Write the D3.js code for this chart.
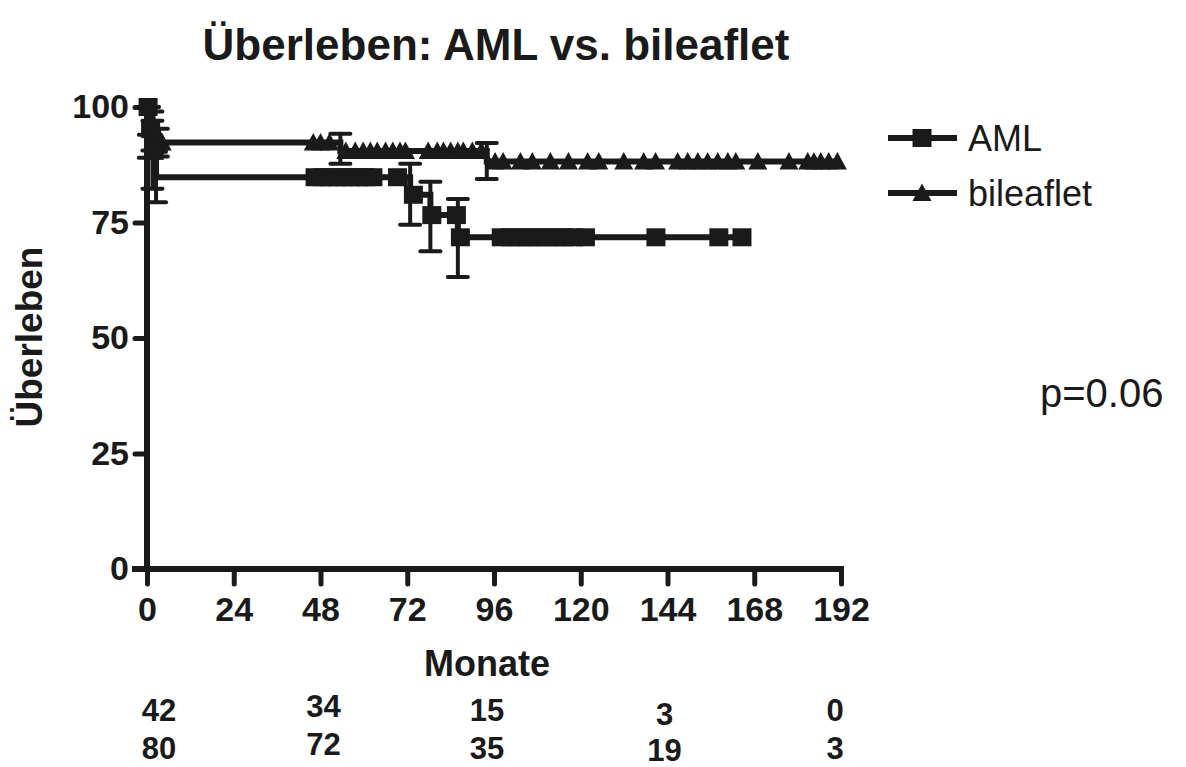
<!DOCTYPE html>
<html>
<head>
<meta charset="utf-8">
<script src="https://cdn.jsdelivr.net/npm/d3@7/dist/d3.min.js"></script>
<style>
  body { margin: 0; background: #fff; }
  svg text { font-family: "Liberation Sans", Arial, sans-serif; fill: #1a1a1a; }
</style>
</head>
<body>
<svg id="chart" width="1186" height="767"></svg>
<script>
// Kaplan-Meier data (months, survival %)
const amlEventTimes = [0.5, 1.5, 2.5, 72.8, 78.4, 86.0];
const amlSurvival   = [95.2, 90.5, 84.8, 81.0, 76.6, 71.8];
const amlErrLow     = [89.0, 82.3, 79.4, 74.5, 68.8, 63.2];
const amlErrHigh    = [100, 97.0, 90.3, 87.7, 83.8, 80.1];
const amlCensored   = [0.3, 1.0, 2.0, 46.5, 48.5, 50.5, 52.5, 54.5, 56.5, 58.5, 60.5, 62.5, 69.3,
                       73.7, 78.8, 85.6, 86.7, 98, 100.5, 103, 105.5, 108, 110.5, 113,
                       115.5, 118, 121.3, 140.8, 158.2, 164.6];

const bileafletEventTimes = [0.5, 1.5, 3.0, 53.5, 94.0];
const bileafletSurvival   = [97.5, 95.0, 92.3, 90.5, 88.2];
const bileafletErrLow     = [94.0, 90.6, 89.3, 87.7, 84.4];
const bileafletErrHigh    = [100, 99.0, 95.3, 94.2, 92.2];
const bileafletCensored   = [1.0, 2.2, 3.4, 4.2, 46, 48, 50.5, 55, 57.6, 59.8, 61.8, 63.7, 66, 68, 70,
                             71.5, 77.8, 80.3, 82, 84, 86, 87.5, 90, 92.5, 96.3, 98.5,
                             103.3, 106.6, 111.6, 116.6, 121.9, 125, 131.9, 137.4, 140.7,
                             146.8, 149.6, 152.4, 155.1, 157.9, 160.7, 162.9, 169, 177.6,
                             182.8, 184.5, 186.4, 188.6, 191];

const xTicks = [0, 24, 48, 72, 96, 120, 144, 168, 192];
const yTicks = [0, 25, 50, 75, 100];

// number at risk table
const riskMonths    = [0, 48, 96, 144, 192];
const riskAML       = [42, 34, 15, 3, 0];
const riskBileaflet = [80, 72, 35, 19, 3];

const ink = "#1a1a1a";
const svg = d3.select("#chart");

const x = d3.scaleLinear().domain([0, 192]).range([147, 841]);
const y = d3.scaleLinear().domain([0, 100]).range([569, 107]);

// survival value just after time t (for placing censor marks)
function survivalAt(times, surv, t) {
    let s = 100;
    times.forEach((et, i) => { if (et <= t) s = surv[i]; });
    return s;
}

function buildSeries(times, surv, censored) {
    const end = d3.max(censored.concat(times));
    const pts = [[0, 100]];
    times.forEach((t, i) => pts.push([t, surv[i]]));
    pts.push([end, survivalAt(times, surv, end)]);
    return pts;
}

const stepLine = d3.line()
    .x(d => x(d[0]))
    .y(d => y(d[1]))
    .curve(d3.curveStepAfter);

const squarePath = "M-9.5,-9 H9.5 V9 H-9.5 Z";
const trianglePath = "M0,-9.5 L9.5,8 L-9.5,8 Z";

const series = [
    { name: "AML", times: amlEventTimes, surv: amlSurvival, lo: amlErrLow, hi: amlErrHigh,
      cens: amlCensored, marker: squarePath },
    { name: "bileaflet", times: bileafletEventTimes, surv: bileafletSurvival, lo: bileafletErrLow,
      hi: bileafletErrHigh, cens: bileafletCensored, marker: trianglePath }
];

// axes
const xAxis = svg.append("g")
    .attr("transform", `translate(0,${y(0)})`)
    .call(d3.axisBottom(x).tickValues(xTicks).tickSize(15).tickSizeOuter(0).tickPadding(13));
const yAxis = svg.append("g")
    .attr("transform", `translate(${x(0)},0)`)
    .call(d3.axisLeft(y).tickValues(yTicks).tickSize(12).tickSizeOuter(0).tickPadding(6));

[xAxis, yAxis].forEach(ax => {
    ax.select(".domain").attr("stroke", ink).attr("stroke-width", 6).attr("stroke-linecap", "square");
    ax.selectAll(".tick line").attr("stroke", ink).attr("stroke-width", 5).attr("stroke-linecap", "round");
    ax.selectAll(".tick text")
        .style("font-size", "34px").style("font-weight", "bold").attr("fill", ink);
});
xAxis.select(".domain").attr("d", `M${x(0) - 12},0H${x(192)}`);
yAxis.select(".domain").attr("d", `M0,${y(0)}V${y(100) - 6}`);

// curves
series.forEach(s => {
    const g = svg.append("g").attr("class", "km-" + s.name);

    g.append("path")
        .attr("d", stepLine(buildSeries(s.times, s.surv, s.cens)))
        .attr("fill", "none")
        .attr("stroke", ink)
        .attr("stroke-width", 6);

    // error bars at each event
    const bars = g.selectAll(".err").data(s.times.map((t, i) => ({ t, lo: s.lo[i], hi: s.hi[i] })))
        .enter().append("g").attr("class", "err");
    bars.append("line")
        .attr("x1", d => x(d.t)).attr("x2", d => x(d.t))
        .attr("y1", d => y(d.lo)).attr("y2", d => y(d.hi))
        .attr("stroke", ink).attr("stroke-width", 4);
    ["lo", "hi"].forEach(k => {
        bars.append("line")
            .attr("x1", d => x(d.t) - 10).attr("x2", d => x(d.t) + 10)
            .attr("y1", d => y(d[k])).attr("y2", d => y(d[k]))
            .attr("stroke", ink).attr("stroke-width", 4).attr("stroke-linecap", "round");
    });

    // censored marks
    g.selectAll(".cens").data(s.cens)
        .enter().append("path")
        .attr("class", "cens")
        .attr("d", s.marker)
        .attr("transform", t => `translate(${x(t)},${y(survivalAt(s.times, s.surv, t))})`)
        .attr("fill", ink);
});

// title
svg.append("text")
    .attr("x", 496).attr("y", 60)
    .attr("text-anchor", "middle")
    .style("font-size", "44px").style("font-weight", "bold")
    .text("Überleben: AML vs. bileaflet");

// axis titles
svg.append("text")
    .attr("transform", "translate(42,337) rotate(-90)")
    .attr("text-anchor", "middle")
    .style("font-size", "37px").style("font-weight", "bold")
    .text("Überleben");

svg.append("text")
    .attr("x", 487).attr("y", 676)
    .attr("text-anchor", "middle")
    .style("font-size", "36px").style("font-weight", "bold")
    .text("Monate");

// legend
const legend = svg.append("g");
series.forEach((s, i) => {
    const ly = 138 + i * 55;
    legend.append("line")
        .attr("x1", 888).attr("x2", 957).attr("y1", ly).attr("y2", ly)
        .attr("stroke", ink).attr("stroke-width", 6);
    legend.append("path")
        .attr("d", s.marker)
        .attr("transform", `translate(922,${ly})`)
        .attr("fill", ink);
    legend.append("text")
        .attr("x", 968).attr("y", ly + 13)
        .style("font-size", "36px")
        .text(s.name);
});

// p value
svg.append("text")
    .attr("x", 1040).attr("y", 407)
    .style("font-size", "40px")
    .text("p=0.06");

// number at risk
const riskNudgeX = [12, 3, -7, -3, -6];
const riskNudgeY = [[0, -4, 0, 4, 0], [0, -4, 0, 2, 0]];
[riskAML, riskBileaflet].forEach((row, r) => {
    svg.append("g").selectAll("text").data(row)
        .enter().append("text")
        .attr("x", (d, i) => x(riskMonths[i]) + riskNudgeX[i])
        .attr("y", (d, i) => 721 + r * 38 + riskNudgeY[r][i])
        .attr("text-anchor", "middle")
        .style("font-size", "31px").style("font-weight", "bold")
        .text(d => d);
});
</script>
</body>
</html>
